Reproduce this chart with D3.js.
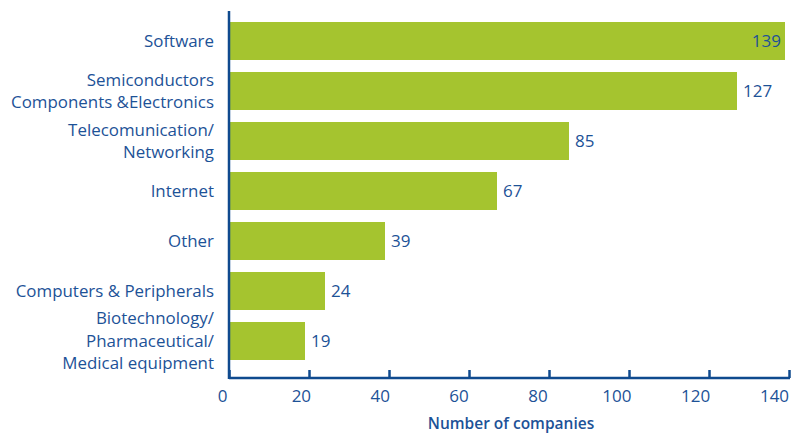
<!DOCTYPE html>
<html>
<head>
<meta charset="utf-8">
<script src="https://cdn.jsdelivr.net/npm/d3@7"></script>
<style>
  html, body { margin: 0; padding: 0; background: #fff; }
  svg { display: block; }
  text { font-family: "Open Sans", sans-serif; }
</style>
</head>
<body>
<svg id="chart" width="799" height="434"></svg>
<script>
const categories = [
  ["Software"],
  ["Semiconductors", "Components &Electronics"],
  ["Telecomunication/", "Networking"],
  ["Internet"],
  ["Other"],
  ["Computers & Peripherals"],
  ["Biotechnology/", "Pharmaceutical/", "Medical equipment"]
];
const values = [139, 127, 85, 67, 39, 24, 19];
const tickValues = [0, 20, 40, 60, 80, 100, 120, 140];
const axisTitle = "Number of companies";

const textColor = "#1d5297";
const axisColor = "#0f4a8e";
const barColor = "#a5c42f";

const svg = d3.select("#chart");
const x0 = 229, x1 = 789;
const x = d3.scaleLinear().domain([0, 140]).range([x0, x1]);
// tick labels in the original sit slightly left of their tick marks
const xLab = d3.scaleLinear().domain([0, 140]).range([222, 774]);
const keys = categories.map((c, i) => i);
const y = d3.scaleBand().domain(keys).range([16, 366]).paddingInner(0.24).paddingOuter(0.12);
const axisY = 378;

// bars
svg.selectAll("rect.bar").data(values).enter().append("rect")
  .attr("class", "bar")
  .attr("x", x(0))
  .attr("y", (d, i) => y(i))
  .attr("width", d => x(d) - x(0))
  .attr("height", y.bandwidth())
  .attr("fill", barColor);

// value labels
svg.selectAll("text.val").data(values).enter().append("text")
  .attr("class", "val")
  .attr("x", (d, i) => i === 0 ? x(d) - 4 : x(d) + 6)
  .attr("y", (d, i) => y(i) + y.bandwidth() / 2)
  .attr("dy", "0.35em")
  .attr("text-anchor", (d, i) => i === 0 ? "end" : "start")
  .attr("font-size", 17)
  .attr("fill", textColor)
  .text(d => d);

// category labels
const lineH = 22.5;
const catG = svg.selectAll("text.cat").data(categories).enter().append("text")
  .attr("class", "cat")
  .attr("text-anchor", "end")
  .attr("font-size", 16.9)
  .attr("fill", textColor);
catG.each(function(lines, i) {
  const cy = y(i) + y.bandwidth() / 2;
  const start = cy - (lines.length - 1) * lineH / 2;
  d3.select(this).selectAll("tspan").data(lines).enter().append("tspan")
    .attr("x", 214)
    .attr("y", (l, j) => start + j * lineH)
    .attr("dy", "0.35em")
    .text(l => l);
});

// x axis ticks (no labels)
const axG = svg.append("g").attr("transform", `translate(0,${axisY})`)
  .call(d3.axisTop(x).tickValues(tickValues).tickSize(8).tickFormat(""));
axG.select(".domain").remove();
axG.selectAll(".tick line").attr("stroke", axisColor).attr("stroke-width", 2.5);

// baseline and y axis line
svg.append("line").attr("x1", x0).attr("x2", x1 + 1).attr("y1", axisY).attr("y2", axisY)
  .attr("stroke", axisColor).attr("stroke-width", 2.5);
svg.append("line").attr("x1", x0).attr("x2", x0).attr("y1", 11).attr("y2", axisY + 1)
  .attr("stroke", axisColor).attr("stroke-width", 2.5);

// tick labels
const labG = svg.append("g").attr("transform", `translate(0,${axisY})`)
  .call(d3.axisBottom(xLab).tickValues(tickValues).tickSize(0).tickPadding(12));
labG.select(".domain").remove();
labG.selectAll("text").attr("font-size", 17).attr("fill", textColor)
  .attr("font-family", "'Open Sans', sans-serif");

// axis title
svg.append("text")
  .attr("x", 511).attr("y", 429)
  .attr("text-anchor", "middle")
  .attr("font-size", 15.5)
  .attr("font-weight", 600)
  .attr("fill", textColor)
  .text(axisTitle);
</script>
</body>
</html>
